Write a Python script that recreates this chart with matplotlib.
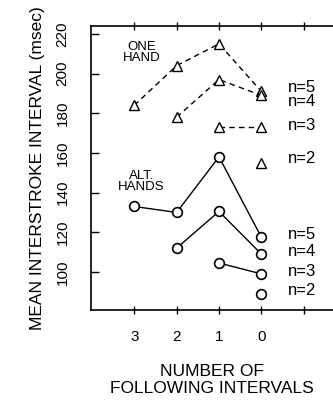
import matplotlib
matplotlib.use("Agg")
import matplotlib.pyplot as plt

plt.rcParams['font.family'] = ['Liberation Sans', 'DejaVu Sans']

# number of following intervals (x) and mean interstroke interval (msec)
one_hand_x = {5: [3, 2, 1, 0], 4: [2, 1, 0], 3: [1, 0], 2: [0]}
one_hand_y = {5: [184, 204, 215, 191], 4: [178, 197, 189], 3: [173, 173], 2: [155]}
alt_x = {5: [3, 2, 1, 0], 4: [2, 1, 0], 3: [1, 0], 2: [0]}
alt_y = {5: [133, 130, 158, 117.5], 4: [112, 130.5, 109], 3: [104.5, 99], 2: [89]}

one_labels_y = [193, 186, 174, 157]
alt_labels_y = [119, 110.5, 100, 90.5]
series_n = [5, 4, 3, 2]

x_ticks = [3, 2, 1, 0, -1]
x_ticklabels = ["3", "2", "1", "0", ""]
y_ticks = [100, 120, 140, 160, 180, 200, 220]

fig = plt.figure(figsize=(3.33, 4.0), dpi=100)
ax = fig.add_axes([0.272, 0.226, 0.728, 0.709])

for n in series_n:
    ax.plot(one_hand_x[n], one_hand_y[n], linestyle=(0, (4, 3)), color='black',
            lw=1.0, marker='^', markersize=7, markerfacecolor='white',
            markeredgecolor='black', markeredgewidth=1.0)
    ax.plot(alt_x[n], alt_y[n], linestyle='-', color='black',
            lw=1.0, marker='o', markersize=7, markerfacecolor='white',
            markeredgecolor='black', markeredgewidth=1.2)

for n, y in zip(series_n, one_labels_y):
    ax.text(-0.63, y, f"n={n}", fontsize=12, ha='left', va='center')
for n, y in zip(series_n, alt_labels_y):
    ax.text(-0.63, y, f"n={n}", fontsize=12, ha='left', va='center')

ax.text(2.83, 210.5, "ONE\nHAND", fontsize=9.5, ha='center', va='center', linespacing=0.85)
ax.text(2.83, 145.5, "ALT.\nHANDS", fontsize=9.5, ha='center', va='center', linespacing=0.85)

ax.set_xlim(4.03, -1.69)
ax.set_ylim(81, 224)
ax.set_xticks(x_ticks)
ax.set_xticklabels(x_ticklabels, fontsize=11)
ax.set_yticks(y_ticks)
ax.set_yticklabels([str(v) for v in y_ticks], fontsize=11, rotation=90, va='center')
ax.tick_params(axis='x', direction='inout', length=6, width=1, pad=12, top=True)
ax.tick_params(axis='y', direction='in', length=6, width=1, pad=15)
ax.spines['right'].set_visible(False)
for s in ['left', 'bottom', 'top']:
    ax.spines[s].set_linewidth(1.2)

ax.set_xlabel("NUMBER OF\nFOLLOWING INTERVALS", fontsize=12.5, labelpad=14, linespacing=1.2)
ax.set_ylabel("MEAN INTERSTROKE INTERVAL (msec)", fontsize=12.5, labelpad=8)

fig.savefig("out.png", dpi=100)
